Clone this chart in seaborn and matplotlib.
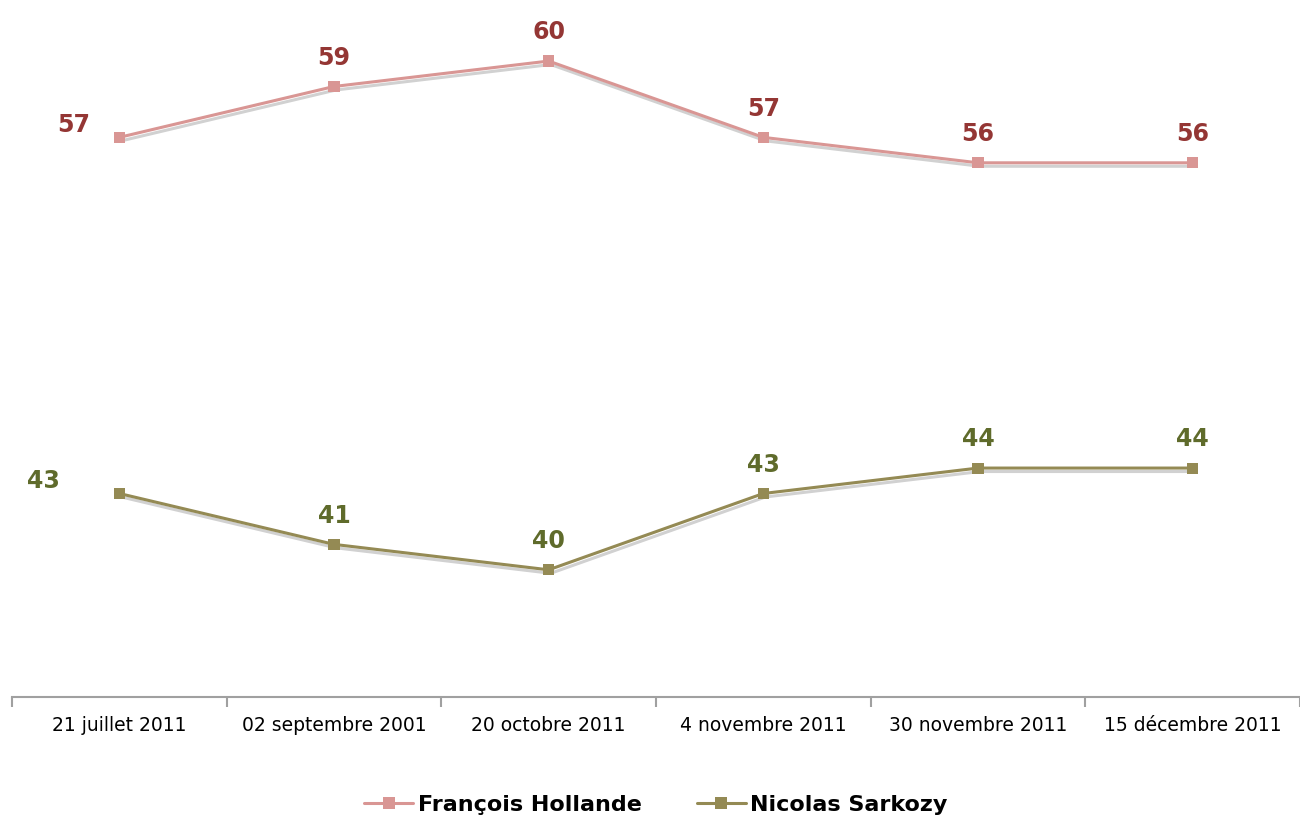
import numpy as np
import pandas as pd
import matplotlib
matplotlib.use("Agg")
import matplotlib.pyplot as plt
import matplotlib.patheffects as pe
import seaborn as sns

dates = ["21 juillet 2011", "02 septembre 2001", "20 octobre 2011",
         "4 novembre 2011", "30 novembre 2011", "15 décembre 2011"]
hollande = [57, 59, 60, 57, 56, 56]
sarkozy = [43, 41, 40, 43, 44, 44]
names = ["François Hollande", "Nicolas Sarkozy"]

line_cols = {"François Hollande": "#D99694", "Nicolas Sarkozy": "#948A54"}
label_cols = {"François Hollande": "#943634", "Nicolas Sarkozy": "#5F6B2B"}

df = pd.DataFrame({
    "pos": list(range(len(dates))) * 2,
    "val": hollande + sarkozy,
    "who": [names[0]] * len(dates) + [names[1]] * len(dates),
})

sns.set_style("white")
plt.rcParams['font.family'] = ['DejaVu Sans']

fig = plt.figure(figsize=(13, 8.21), dpi=100)
ax = fig.add_axes([12 / 1300, 124 / 821, 1288 / 1300, 697 / 821])

sns.lineplot(data=df, x="pos", y="val", hue="who", palette=line_cols,
             marker="s", markersize=8, markeredgewidth=0, linewidth=2.2,
             ax=ax)
# soft drop shadow on the data lines
for ln in ax.lines:
    ln.set_path_effects([pe.SimpleLineShadow(offset=(1.5, -2.5), alpha=0.18,
                                             shadow_color="black"),
                         pe.Normal()])

first_off = {"François Hollande": (-33, 0), "Nicolas Sarkozy": (-55, 0)}
for name, vals in zip(names, [hollande, sarkozy]):
    for i, v in enumerate(vals):
        off = first_off[name] if i == 0 else (0, 12)
        ax.annotate(str(v), (i, v), xytext=off, textcoords="offset points",
                    ha="center", va="bottom", fontsize=17, fontweight="bold",
                    color=label_cols[name])

ax.set_xlim(-0.5, len(dates) - 0.5)
ax.set_ylim(35, 62.4)
ax.set_yticks([])
ax.set_xticks(np.arange(-0.5, len(dates), 1.0))
ax.set_xticklabels([])
ax.set_xticks(range(len(dates)), minor=True)
ax.set_xticklabels(dates, minor=True, fontsize=13.5, color="black")
ax.tick_params(axis="x", which="major", bottom=True, direction="out", length=7,
               color="#A0A0A0", width=1.5)
ax.tick_params(axis="x", which="minor", bottom=True, length=0, pad=14)
for s in ["top", "right", "left"]:
    ax.spines[s].set_visible(False)
ax.spines["bottom"].set_color("#A0A0A0")
ax.spines["bottom"].set_linewidth(1.5)
ax.set_xlabel("")
ax.set_ylabel("")

handles, labels = ax.get_legend_handles_labels()
for h in handles:
    h.set_path_effects([])
leg = ax.legend(handles, labels, loc="center", bbox_to_anchor=(0.5, -0.155),
                ncol=2, frameon=False, handlelength=2.2, handletextpad=0.2,
                columnspacing=2.5, prop={"size": 16, "weight": "bold"})
for t in leg.get_texts():
    t.set_color("black")

fig.savefig("out.png", dpi=100)
